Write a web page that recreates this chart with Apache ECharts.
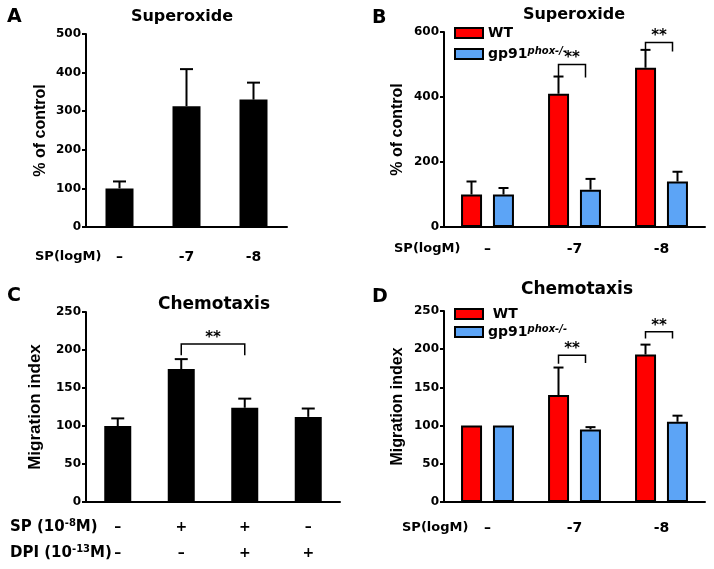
<!DOCTYPE html>
<html><head><meta charset="utf-8">
<script src="https://cdn.jsdelivr.net/npm/echarts@6/dist/echarts.min.js"></script>
<style>html,body{margin:0;padding:0;background:#fff}#c{width:714px;height:569px}</style>
</head><body><div id="c"></div>
<script>
// ---------- data ----------
const catsSP = ['–', '-7', '-8'];
const spRowC = ['–', '+', '+', '–'];
const dpiRowC = ['–', '–', '+', '+'];

const supA = [100, 313, 330];
const supASem = [18, 96, 44];

const supBwt = [100, 410, 490];
const supBwtSem = [40, 53, 55];
const supBgp = [100, 115, 140];
const supBgpSem = [20, 33, 30];

const chemC = [100, 175, 124, 112];
const chemCSem = [10, 13, 12, 11];

const chemDwt = [100, 140, 193];
const chemDwtSem = [0, 36, 13];
const chemDgp = [100, 95, 105];
const chemDgpSem = [0, 3, 8];

// significance brackets: [category, top, leftLegEnd, rightLegEnd]
const bracketB = [[1, 500, 463, 460], [2, 568, 545, 540]];
const bracketD = [[1, 192, 181, 182], [2, 223, 214, 214]];
// [catLeft, catRight, top, leftLegEnd, rightLegEnd]
const bracketC = [[1, 2, 208, 193, 193]];

// y-axis ranges [min, max, interval]
const yA = [0, 500, 100];
const yB = [0, 600, 200];
const yC = [0, 250, 50];
const yD = [0, 250, 50];

// ---------- style ----------
const F_H = '"DejaVu Sans", "Liberation Sans", sans-serif';
const F_R = '"Liberation Sans", Arial, sans-serif';
const RED = '#ff0000', BLUE = '#5ca4f6';
const BW = 21, GAP = 11;            // grouped bar width / gap
const OFF = (BW + GAP) / 2;

function xAxis(grid, data, margin, lineHeight) {
  const lab = { color: '#000', fontFamily: F_H, fontWeight: 'bold', fontSize: 14, margin: margin };
  if (lineHeight) lab.lineHeight = lineHeight;
  return {
    type: 'category', gridIndex: grid, data: data,
    axisLine: { lineStyle: { color: '#000', width: 2 } },
    axisTick: { alignWithLabel: true, length: 6, lineStyle: { color: '#000', width: 2 } },
    axisLabel: lab
  };
}
function yAxis(grid, r, name, nameSize, nameGap) {
  return {
    type: 'value', gridIndex: grid, min: r[0], max: r[1], interval: r[2],
    splitLine: { show: false },
    axisLine: { show: true, lineStyle: { color: '#000', width: 2 } },
    axisTick: { show: true, length: 4, lineStyle: { color: '#000', width: 2 } },
    axisLabel: { color: '#000', fontFamily: F_H, fontWeight: 'bold', fontSize: 12, margin: 5 },
    name: name, nameLocation: 'middle', nameGap: nameGap,
    nameTextStyle: { color: '#000', fontFamily: F_R, fontWeight: 'bold', fontSize: nameSize }
  };
}
function errSeries(grid, vals, sems, offset, capHalf) {
  return {
    type: 'custom', xAxisIndex: grid, yAxisIndex: grid, silent: true, z: 3,
    data: vals.map((v, i) => [i, v, v + sems[i]]),
    encode: { x: 0, y: [1, 2] },
    renderItem: (p, api) => {
      const c = api.value(0), v = api.value(1), e = api.value(2);
      if (!(e > v)) return;
      const a = api.coord([c, v]), b = api.coord([c, e]);
      const x = a[0] + offset;
      return {
        type: 'group', children: [
          { type: 'line', shape: { x1: x, y1: a[1], x2: x, y2: b[1] }, style: { stroke: '#000', lineWidth: 2 } },
          { type: 'line', shape: { x1: x - capHalf, y1: b[1], x2: x + capHalf, y2: b[1] }, style: { stroke: '#000', lineWidth: 2 } }
        ]
      };
    }
  };
}
function stars(x, y) {
  return { type: 'text', x: x, y: y, style: { text: '**', font: 'bold 15px ' + F_H, fill: '#000', align: 'center', verticalAlign: 'middle', textAlign: 'center', textVerticalAlign: 'middle' } };
}
function pairBracket(grid, rows, offL, offR) {
  return {
    type: 'custom', xAxisIndex: grid, yAxisIndex: grid, silent: true, z: 4,
    data: rows, encode: { x: 0, y: 1 },
    renderItem: (p, api) => {
      const c = api.value(0);
      const t = api.coord([c, api.value(1)]), l = api.coord([c, api.value(2)]), r = api.coord([c, api.value(3)]);
      const xl = t[0] + offL, xr = t[0] + offR;
      return {
        type: 'group', children: [
          { type: 'polyline', shape: { points: [[xl, l[1]], [xl, t[1]], [xr, t[1]], [xr, r[1]]] }, style: { stroke: '#000', lineWidth: 1.5, fill: null } },
          stars((xl + xr) / 2, t[1] - 6)
        ]
      };
    }
  };
}
function catBracket(grid, rows) {
  return {
    type: 'custom', xAxisIndex: grid, yAxisIndex: grid, silent: true, z: 4,
    data: rows, encode: { x: 0, y: 2 },
    renderItem: (p, api) => {
      const c1 = api.value(0), c2 = api.value(1);
      const tl = api.coord([c1, api.value(2)]), tr = api.coord([c2, api.value(2)]);
      const l = api.coord([c1, api.value(3)]), r = api.coord([c2, api.value(4)]);
      return {
        type: 'group', children: [
          { type: 'polyline', shape: { points: [[tl[0], l[1]], [tl[0], tl[1]], [tr[0], tr[1]], [tr[0], r[1]]] }, style: { stroke: '#000', lineWidth: 1.5, fill: null } },
          stars((tl[0] + tr[0]) / 2, tl[1] - 6)
        ]
      };
    }
  };
}
function bar(grid, name, data, color, width, grouped) {
  const s = {
    type: 'bar', name: name, xAxisIndex: grid, yAxisIndex: grid, data: data, barWidth: width,
    itemStyle: grouped ? { color: color, borderColor: '#000', borderWidth: 2 } : { color: color }
  };
  if (grouped) s.barGap = (GAP / BW * 100).toFixed(0) + '%';
  return s;
}
function txt(x, y, text, size, align, extra) {
  return {
    type: 'text', x: x, y: y, silent: true,
    style: Object.assign({ text: text, font: 'bold ' + size + 'px ' + F_H, fill: '#000', align: align, verticalAlign: 'middle', textAlign: align, textVerticalAlign: 'middle' }, extra || {})
  };
}
const supRich = { s: { font: 'bold 10px ' + F_H, fill: '#000', padding: [0, 0, 8, 0] } };

const legendRich = {
  n: { fontSize: 14, fontWeight: 'bold', fontFamily: F_H, color: '#000' },
  s: { fontSize: 10, fontWeight: 'bold', fontStyle: 'italic', fontFamily: F_H, color: '#000', padding: [0, 0, 6, 0] }
};
function legend(top, gap, lead) {
  return {
    left: 454, top: top, orient: 'vertical', padding: 0, itemGap: gap,
    itemWidth: 28, itemHeight: 10, icon: 'rect', data: ['WT', 'gp91'],
    itemStyle: { borderColor: '#000', borderWidth: 2 },
    formatter: n => n === 'gp91' ? '{n|gp91}{s|phox-/-}' : '{n|' + lead + 'WT}',
    textStyle: { rich: legendRich }
  };
}

const chart = echarts.init(document.getElementById('c'), null, { renderer: 'canvas' });
chart.setOption({
  animation: false,
  backgroundColor: '#fff',
  grid: [
    { left: 86, top: 34, width: 201, height: 193 },
    { left: 444, top: 32, width: 261, height: 195 },
    { left: 86, top: 312, width: 254, height: 190 },
    { left: 444, top: 311, width: 261, height: 191 }
  ],
  xAxis: [
    xAxis(0, catsSP, 23),
    xAxis(1, catsSP, 15),
    xAxis(2, spRowC.map((s, i) => s + '\n' + dpiRowC[i]), 12, 26),
    xAxis(3, catsSP, 19)
  ],
  yAxis: [
    yAxis(0, yA, '% of control', 16, 37),
    yAxis(1, yB, '% of control', 16, 38),
    yAxis(2, yC, 'Migration index', 17, 42),
    yAxis(3, yD, 'Migration index', 16, 38)
  ],
  legend: [legend(26, 6, ''), legend(307, 3, ' ')],
  series: [
    bar(0, 'A', supA, '#000', 28, false),
    errSeries(0, supA, supASem, 0, 6.5),
    bar(1, 'WT', supBwt, RED, BW, true),
    bar(1, 'gp91', supBgp, BLUE, BW, true),
    errSeries(1, supBwt, supBwtSem, -OFF, 5),
    errSeries(1, supBgp, supBgpSem, OFF, 5),
    pairBracket(1, bracketB, -OFF, OFF - 5),
    bar(2, 'C', chemC, '#000', 27, false),
    errSeries(2, chemC, chemCSem, 0, 6.5),
    catBracket(2, bracketC),
    bar(3, 'WT', chemDwt, RED, BW, true),
    bar(3, 'gp91', chemDgp, BLUE, BW, true),
    errSeries(3, chemDwt, chemDwtSem, -OFF, 5),
    errSeries(3, chemDgp, chemDgpSem, OFF, 5),
    pairBracket(3, bracketD, -OFF, OFF - 5)
  ],
  graphic: [
    txt(7, 17, 'A', 19, 'left'),
    txt(372, 18, 'B', 19, 'left'),
    txt(7, 296, 'C', 19, 'left'),
    txt(372, 297, 'D', 19, 'left'),
    txt(182, 17, 'Superoxide', 16, 'center'),
    txt(574, 15, 'Superoxide', 16, 'center'),
    txt(214, 305, 'Chemotaxis', 17, 'center'),
    txt(577, 290, 'Chemotaxis', 17, 'center'),
    txt(35, 257, 'SP(logM)', 13, 'left'),
    txt(394, 249, 'SP(logM)', 13, 'left'),
    txt(402, 528, 'SP(logM)', 13, 'left'),
    txt(10, 527, 'SP (10{s|-8}M)', 15, 'left', { rich: supRich }),
    txt(10, 553, 'DPI (10{s|-13}M)', 15, 'left', { rich: supRich })
  ]
});
</script></body></html>
